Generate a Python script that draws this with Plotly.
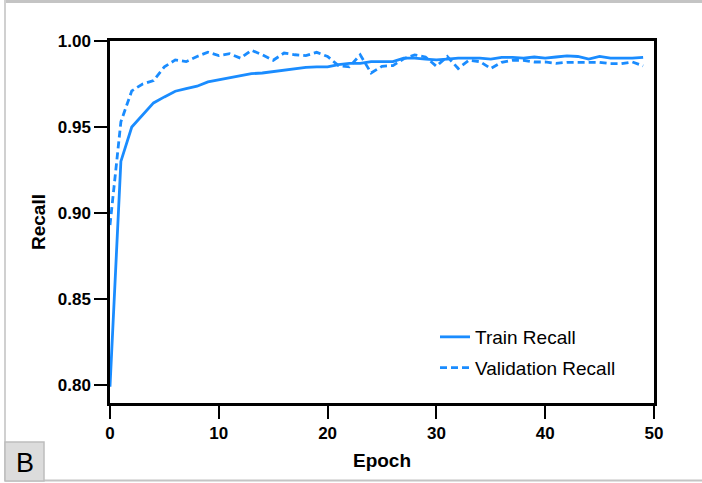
import plotly.graph_objects as go

# Recall per epoch for the training and validation sets
epochs = list(range(50))
train_recall = [
    0.799, 0.930, 0.950, 0.957, 0.964, 0.9675, 0.9708, 0.9723, 0.9737, 0.9762,
    0.9775, 0.9785, 0.9800, 0.9810, 0.9814, 0.9822, 0.9830, 0.9840, 0.9847, 0.9850,
    0.9850, 0.9863, 0.9870, 0.9870, 0.9880, 0.9880, 0.9880, 0.9900, 0.9900, 0.9895,
    0.9890, 0.9895, 0.9900, 0.9900, 0.9900, 0.9895, 0.9905, 0.9905, 0.9900, 0.9907,
    0.9900, 0.9907, 0.9913, 0.9910, 0.9895, 0.9910, 0.9900, 0.9900, 0.9900, 0.9905,
]
val_recall = [
    0.893, 0.953, 0.971, 0.975, 0.977, 0.985, 0.989, 0.988, 0.991, 0.9935,
    0.9915, 0.9926, 0.9900, 0.9946, 0.9920, 0.9888, 0.9930, 0.9920, 0.9915, 0.9934,
    0.9910, 0.9857, 0.9850, 0.9920, 0.9814, 0.9853, 0.9857, 0.9897, 0.9919, 0.9907,
    0.9853, 0.9910, 0.9840, 0.9888, 0.9880, 0.9840, 0.9876, 0.9888, 0.9888, 0.9878,
    0.9878, 0.9870, 0.9876, 0.9876, 0.9876, 0.9876, 0.9868, 0.9868, 0.9878, 0.9855,
]
y_ticks = [0.80, 0.85, 0.90, 0.95, 1.00]
x_ticks = [0, 10, 20, 30, 40, 50]

BLUE = "#1a8cff"
FONT = "Liberation Sans, Arial, sans-serif"

W, H = 702, 483
ML, MR, MT, MB = 110, 48, 41, 80
PW, PH = W - ML - MR, H - MT - MB


def px(x):
    return (x - ML) / PW


def py(y):
    return (H - MB - y) / PH


fig = go.Figure()
fig.add_trace(go.Scatter(
    x=epochs, y=train_recall, mode="lines", name="Train Recall",
    legendgroup="train",
    line=dict(color=BLUE, width=2.8),
))
fig.add_trace(go.Scatter(
    x=epochs, y=val_recall, mode="lines", name="Validation Recall",
    legendgroup="val",
    line=dict(color=BLUE, width=2.8, dash="7px,4px"),
))

axis_common = dict(
    showgrid=False, zeroline=False,
    showline=True, linecolor="black", linewidth=2.5, mirror=True,
    ticks="outside", ticklen=13, tickwidth=2, tickcolor="black",
    tickfont=dict(family=FONT, size=17, color="black", weight="bold"),
)

fig.update_xaxes(
    range=[0, 50], tickvals=x_ticks,
    title=dict(text="Epoch", font=dict(family=FONT, size=19, color="black", weight="bold"), standoff=12),
    **axis_common,
)
fig.update_yaxes(
    range=[0.7895, 1.0], tickvals=y_ticks, tickformat=".2f",
    title=dict(text="Recall", font=dict(family=FONT, size=19, color="black", weight="bold"), standoff=8),
    **axis_common,
)

# Panel frame and the "B" panel tag
shapes = [
    dict(type="line", xref="paper", yref="paper", x0=px(5), x1=px(702), y0=py(1.5), y1=py(1.5),
         line=dict(color="#c4c4c4", width=3)),
    dict(type="line", xref="paper", yref="paper", x0=px(5), x1=px(5), y0=py(0), y1=py(481),
         line=dict(color="#d0d0d0", width=2)),
    dict(type="line", xref="paper", yref="paper", x0=px(5), x1=px(702), y0=py(480.5), y1=py(480.5),
         line=dict(color="#c4c4c4", width=2)),
    dict(type="rect", xref="paper", yref="paper", x0=px(5), x1=px(44), y0=py(442), y1=py(481),
         fillcolor="#dcdcdc", line=dict(color="#bdbdbd", width=1.5)),
]
annotations = [
    dict(text="B", xref="paper", yref="paper", x=px(24.5), y=py(463), showarrow=False,
         xanchor="center", yanchor="middle",
         font=dict(family=FONT, size=27, color="black")),
]

fig.update_layout(
    width=W, height=H,
    margin=dict(l=ML, r=MR, t=MT, b=MB),
    paper_bgcolor="white", plot_bgcolor="white",
    showlegend=True,
    legend=dict(
        x=px(435), y=py(318), xanchor="left", yanchor="top",
        bgcolor="rgba(0,0,0,0)", tracegroupgap=3,
        font=dict(family=FONT, size=19, color="black"),
    ),
    shapes=shapes, annotations=annotations,
)

fig.write_html("out.html")
